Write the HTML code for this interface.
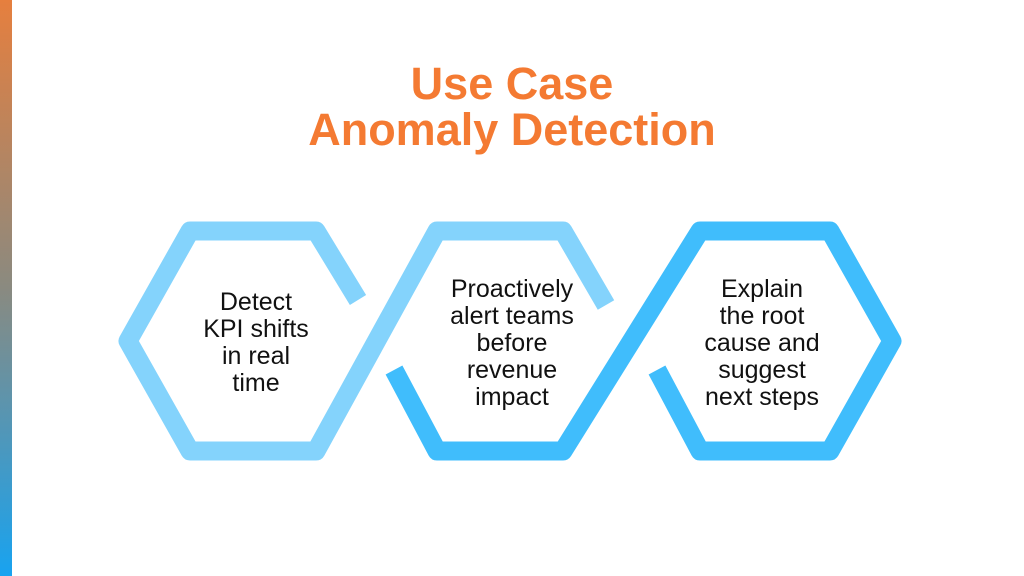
<!DOCTYPE html>
<html><head><meta charset="utf-8"><style>
html,body{margin:0;padding:0;background:#fff;}
body{width:1024px;height:576px;position:relative;overflow:hidden;font-family:"Liberation Sans",sans-serif;}
.bar{position:absolute;left:0;top:0;width:12px;height:576px;background:linear-gradient(#e67f3e,#8a8a80 50%,#18a3f0);}
.title{position:absolute;left:0;width:1024px;text-align:center;color:#f47a32;font-weight:bold;font-size:45px;line-height:50px;}
.t{position:absolute;text-align:center;font-size:25px;line-height:27px;color:#111;width:220px;}
</style></head><body>
<div class="bar"></div>
<div class="title" style="top:59px">Use Case</div>
<div class="title" style="top:105px">Anomaly Detection</div>
<svg width="1024" height="576" style="position:absolute;left:0;top:0">
<path d="M358 300 L316 231 L190 231 L128 341 L190 451 L316 451 L437 231 L563 231 L606 305" fill="none" stroke="#84d3fc" stroke-width="19" stroke-linejoin="round"/>
<path d="M394 370 L437 451 L563 451 L700 231 L830 231 L892 341 L830 451 L700 451 L657 370" fill="none" stroke="#40bdfc" stroke-width="19" stroke-linejoin="round"/>
</svg>
<div class="t" style="left:146px;top:289px">Detect<br>KPI shifts<br>in real<br>time</div>
<div class="t" style="left:402px;top:276px">Proactively<br>alert teams<br>before<br>revenue<br>impact</div>
<div class="t" style="left:652px;top:276px">Explain<br>the root<br>cause and<br>suggest<br>next steps</div>
</body></html>
